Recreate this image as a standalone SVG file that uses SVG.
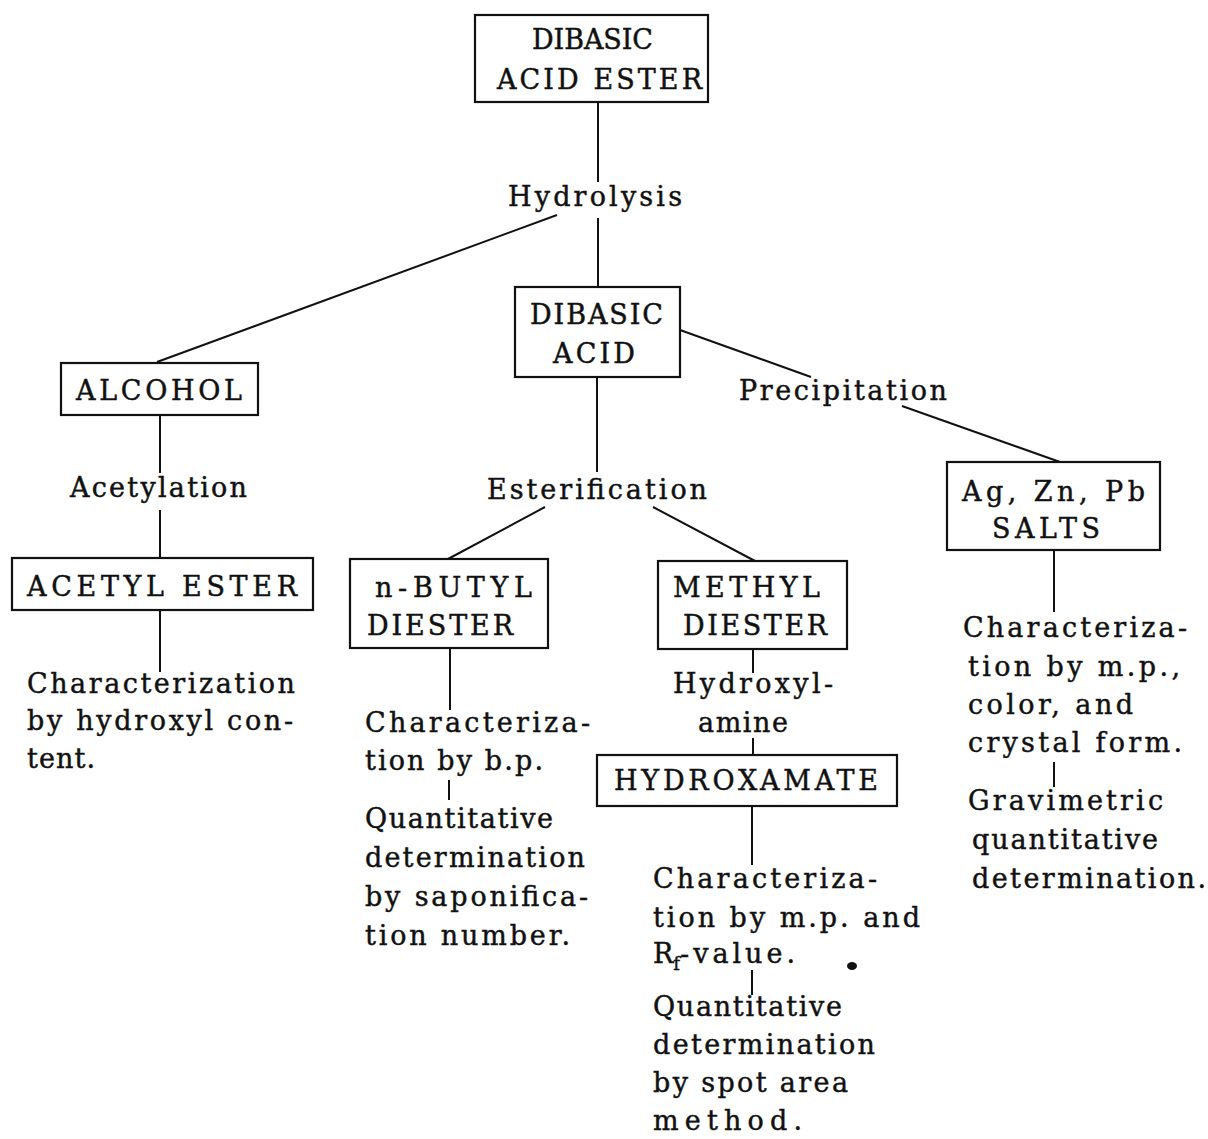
<svg xmlns="http://www.w3.org/2000/svg" width="1208" height="1139" viewBox="0 0 1208 1139">
<style>
text{font-family:"DejaVu Serif","Liberation Serif",serif;font-size:27px;fill:#111;stroke:#111;stroke-width:0.45}
.box{fill:none;stroke:#111;stroke-width:2.2}
.ln{stroke:#111;stroke-width:2;fill:none}
.sub{font-size:18px}
</style>
<rect width="1208" height="1139" fill="#fff"/>
<g id="connectors">
<path class="ln" d="M598 102V182M598 218V287M557 215L157 362M160 415V473M160 510V558M160 610V672M597 377V472M545 507L448 559M653 507L755 561M680 330L811 377M902 406L1060 462M450 648V710M449 780V800M753 649V673M753 738V755M752 806V865M752 970V995M1054 550V612M1054 762V787"/>
</g>
<g id="n-dibasic-acid-ester">
<rect class="box" x="475" y="15" width="233" height="87"/>
<text x="532" y="49" textLength="121" lengthAdjust="spacing">DIBASIC</text>
<text x="497" y="89" textLength="205" lengthAdjust="spacing">ACID ESTER</text>
</g>
<g id="l-hydrolysis"><text x="508" y="206" textLength="174" lengthAdjust="spacing">Hydrolysis</text></g>
<g id="n-dibasic-acid">
<rect class="box" x="515" y="287" width="165" height="90"/>
<text x="530" y="324" textLength="133" lengthAdjust="spacing">DIBASIC</text>
<text x="553" y="363" textLength="82" lengthAdjust="spacing">ACID</text>
</g>
<g id="n-alcohol">
<rect class="box" x="61" y="363" width="197" height="52"/>
<text x="76" y="400" textLength="166" lengthAdjust="spacing">ALCOHOL</text>
</g>
<g id="l-acetylation"><text x="70" y="497" textLength="177" lengthAdjust="spacing">Acetylation</text></g>
<g id="n-acetyl-ester">
<rect class="box" x="12" y="558" width="301" height="52"/>
<text x="27" y="596" textLength="270" lengthAdjust="spacing">ACETYL ESTER</text>
</g>
<g id="t-acetyl">
<text x="27" y="693" textLength="268" lengthAdjust="spacing">Characterization</text>
<text x="27" y="730" textLength="266" lengthAdjust="spacing">by hydroxyl con-</text>
<text x="27" y="768" textLength="68" lengthAdjust="spacing">tent.</text>
</g>
<g id="l-esterification"><text x="487" y="499" textLength="220" lengthAdjust="spacing">Esterification</text></g>
<g id="n-butyl">
<rect class="box" x="350" y="559" width="198" height="89"/>
<text x="375" y="597" textLength="157" lengthAdjust="spacing">n-BUTYL</text>
<text x="367" y="635" textLength="146" lengthAdjust="spacing">DIESTER</text>
</g>
<g id="t-butyl">
<text x="365" y="732" textLength="225" lengthAdjust="spacing">Characteriza-</text>
<text x="365" y="770" textLength="178" lengthAdjust="spacing">tion by b.p.</text>
<text x="365" y="828" textLength="188" lengthAdjust="spacing">Quantitative</text>
<text x="365" y="867" textLength="220" lengthAdjust="spacing">determination</text>
<text x="365" y="906" textLength="223" lengthAdjust="spacing">by saponifica-</text>
<text x="365" y="945" textLength="205" lengthAdjust="spacing">tion number.</text>
</g>
<g id="n-methyl">
<rect class="box" x="658" y="561" width="189" height="88"/>
<text x="673" y="597" textLength="147" lengthAdjust="spacing">METHYL</text>
<text x="683" y="635" textLength="144" lengthAdjust="spacing">DIESTER</text>
</g>
<g id="l-hydroxylamine">
<text x="673" y="693" textLength="160" lengthAdjust="spacing">Hydroxyl-</text>
<text x="698" y="732" textLength="90" lengthAdjust="spacing">amine</text>
</g>
<g id="n-hydroxamate">
<rect class="box" x="597" y="755" width="300" height="51"/>
<text x="614" y="790" textLength="264" lengthAdjust="spacing">HYDROXAMATE</text>
</g>
<g id="t-hydroxamate">
<text x="653" y="888" textLength="224" lengthAdjust="spacing">Characteriza-</text>
<text x="653" y="927" textLength="267" lengthAdjust="spacing">tion by m.p. and</text>
<text x="653" y="963">R<tspan class="sub" dy="7">f</tspan><tspan dy="-7" letter-spacing="4">-value.</tspan></text>
<ellipse cx="852" cy="966" rx="5" ry="4" fill="#111"/>
<text x="653" y="1016" textLength="189" lengthAdjust="spacing">Quantitative</text>
<text x="653" y="1054" textLength="222" lengthAdjust="spacing">determination</text>
<text x="653" y="1092" textLength="195" lengthAdjust="spacing">by spot area</text>
<text x="653" y="1130" textLength="149" lengthAdjust="spacing">method.</text>
</g>
<g id="l-precipitation"><text x="739" y="400" textLength="208" lengthAdjust="spacing">Precipitation</text></g>
<g id="n-salts">
<rect class="box" x="947" y="462" width="213" height="88"/>
<text x="962" y="501" textLength="183" lengthAdjust="spacing">Ag, Zn, Pb</text>
<text x="992" y="538" textLength="108" lengthAdjust="spacing">SALTS</text>
</g>
<g id="t-salts">
<text x="963" y="637" textLength="224" lengthAdjust="spacing">Characteriza-</text>
<text x="968" y="676" textLength="212" lengthAdjust="spacing">tion by m.p.,</text>
<text x="968" y="714" textLength="165" lengthAdjust="spacing">color, and</text>
<text x="968" y="752" textLength="214" lengthAdjust="spacing">crystal form.</text>
<text x="968" y="810" textLength="195" lengthAdjust="spacing">Gravimetric</text>
<text x="972" y="849" textLength="186" lengthAdjust="spacing">quantitative</text>
<text x="972" y="888" textLength="234" lengthAdjust="spacing">determination.</text>
</g>
</svg>
